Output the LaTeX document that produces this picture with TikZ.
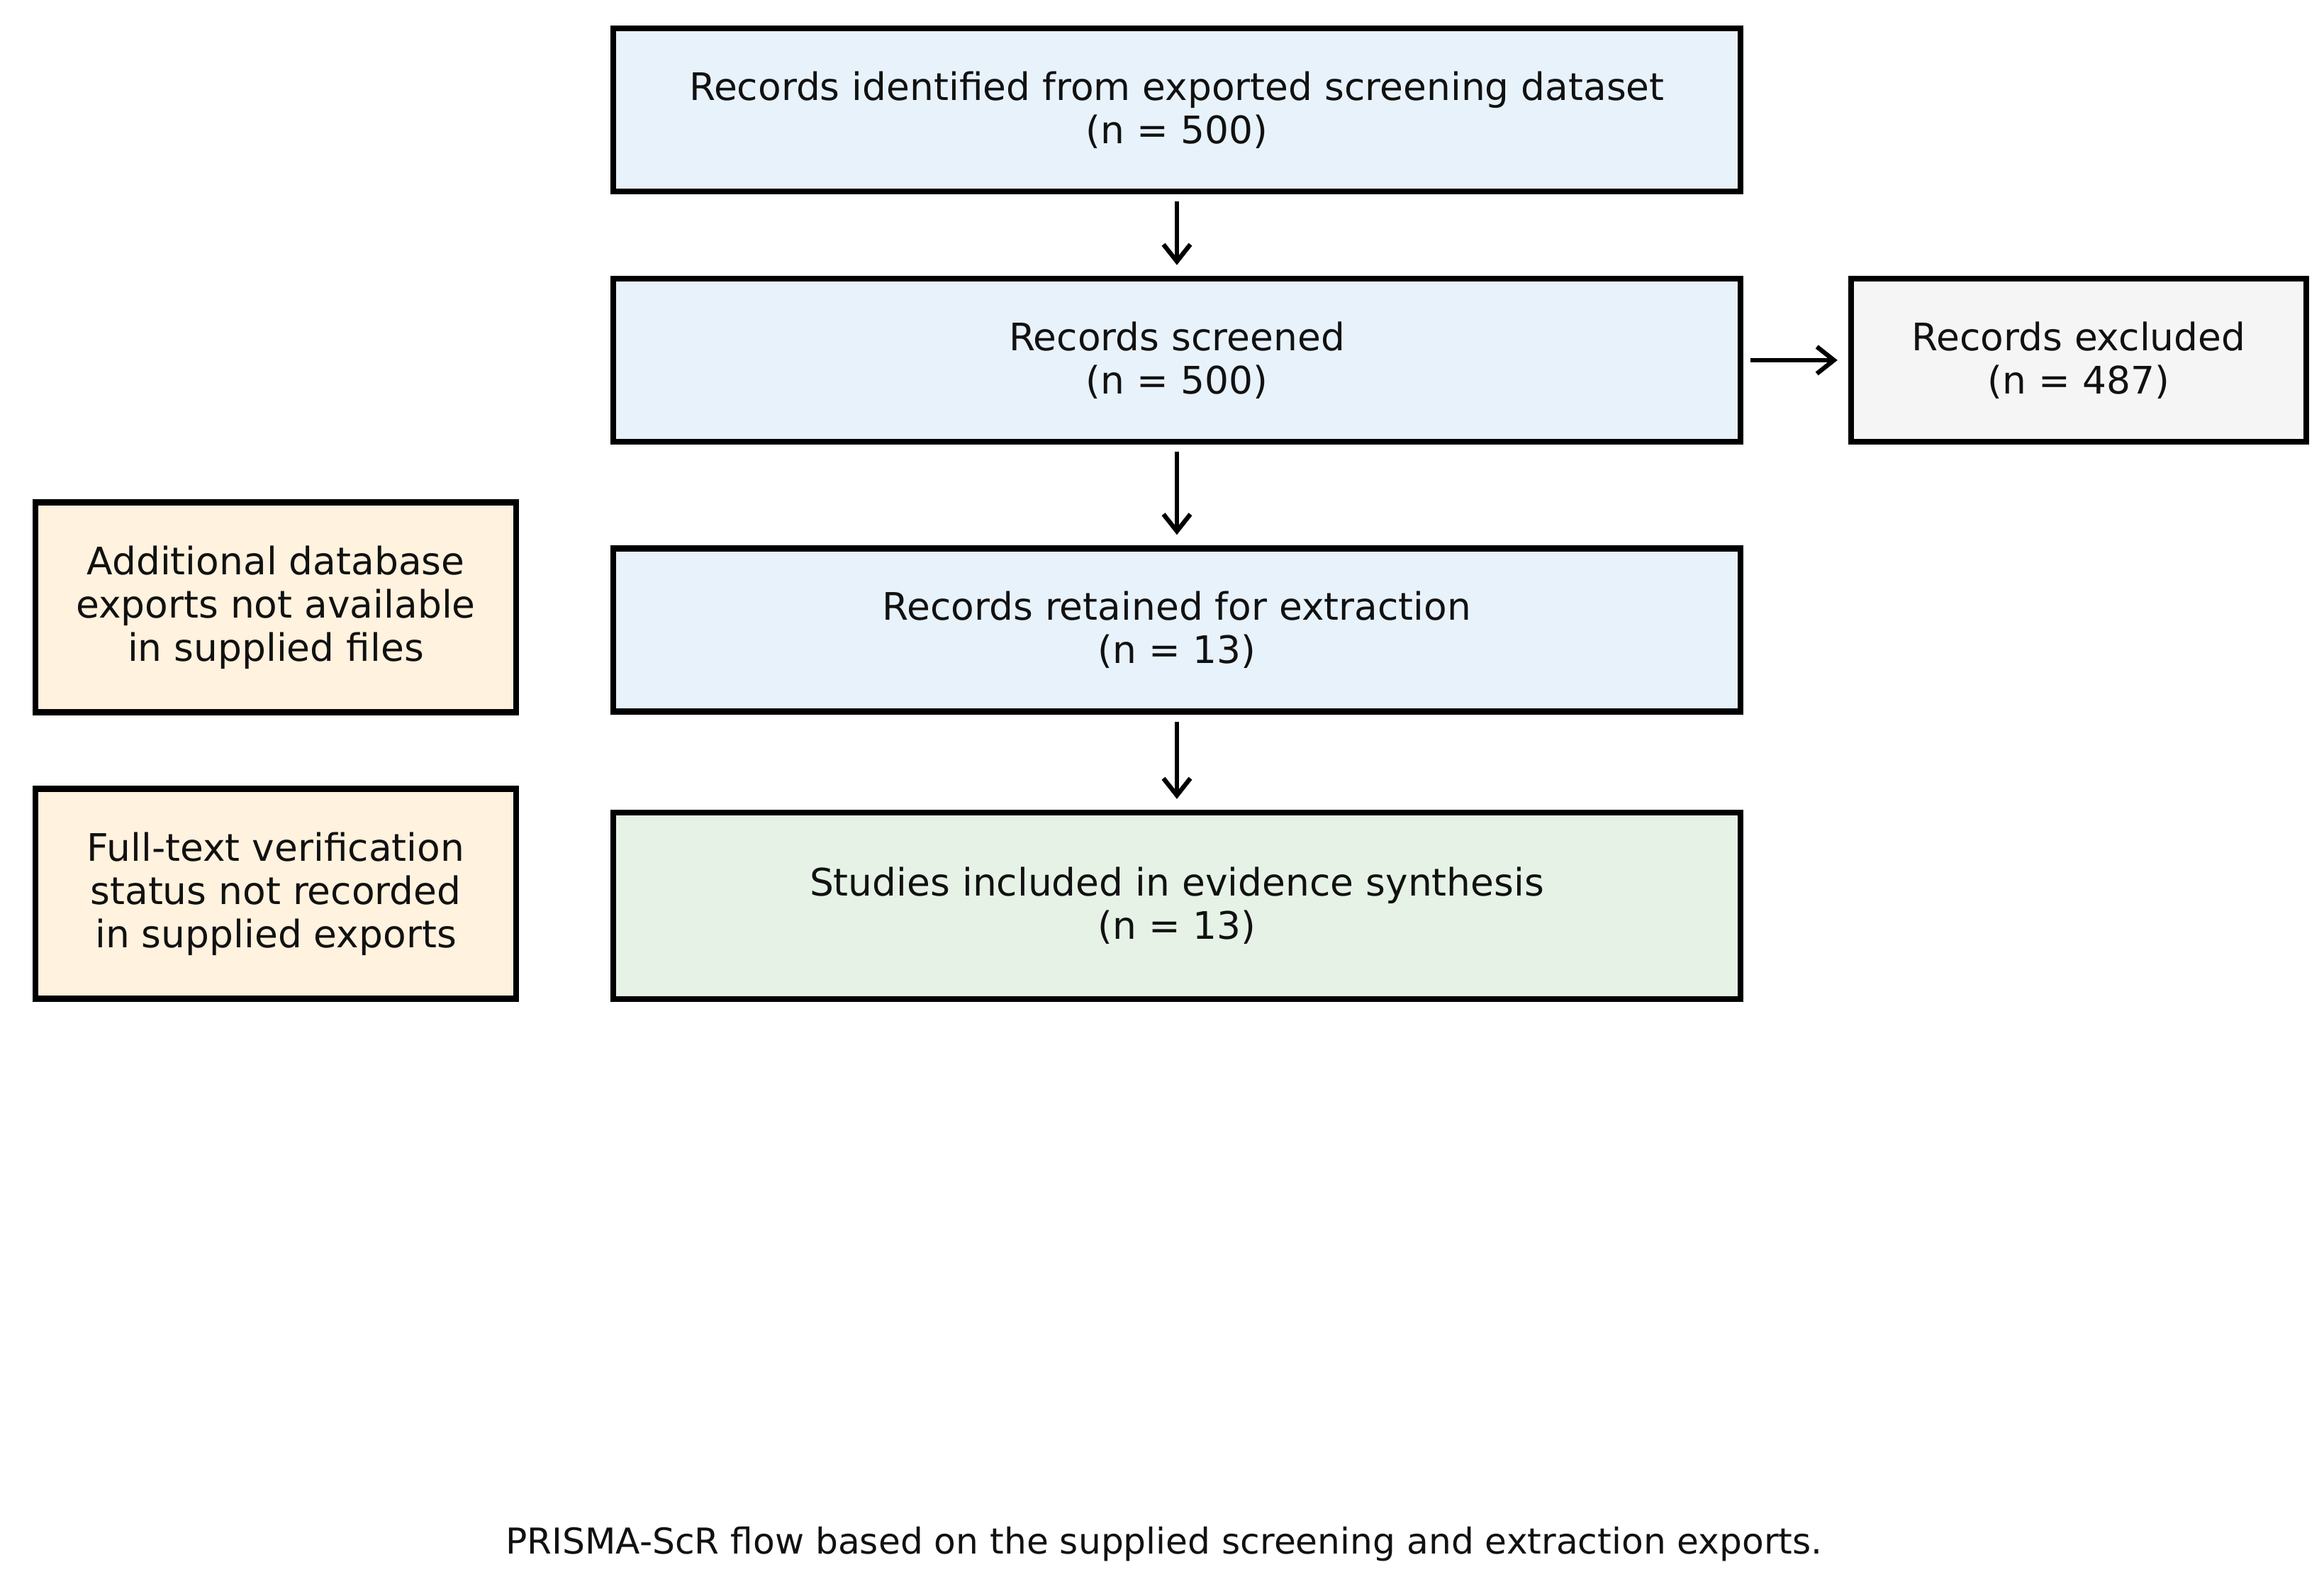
\documentclass[tikz,border=0pt]{standalone}
\usepackage{fontspec}
\setmainfont{DejaVu Sans}
\usetikzlibrary{arrows.meta}
\definecolor{stageblue}{RGB}{232,242,251}
\definecolor{stagegreen}{RGB}{230,242,230}
\definecolor{notecream}{RGB}{255,242,222}
\definecolor{exclgray}{RGB}{245,245,245}
\definecolor{inkblack}{RGB}{17,17,17}

\begin{document}
\begin{tikzpicture}[
  box/.style={draw=black, line width=2.4pt, inner sep=0pt, align=center,
    text=inkblack, font=\fontsize{15.2}{17.4}\selectfont},
  stage/.style={box, fill=stageblue, minimum width=15.9cm, minimum height=2.3cm},
  note/.style={box, fill=notecream, minimum width=6.78cm, minimum height=2.96cm},
  arrow/.style={-{Straight Barb[length=2.4mm,width=3.8mm]}, line width=1.8pt,
    shorten <=0.1cm, shorten >=0.15cm}
]
\useasboundingbox (0,0) rectangle (32.78,-22.41);
\fill[white] (0,0) rectangle (32.78,-22.41);

% main flow
\node[stage] (ident) at (16.60,-1.55) {Records identified from exported screening dataset\\(n = 500)};
\node[stage] (screen) at (16.60,-5.08) {Records screened\\(n = 500)};
\node[stage] (retain) at (16.60,-8.885) {Records retained for extraction\\(n = 13)};
\node[stage, fill=stagegreen, minimum height=2.63cm] (incl) at (16.60,-12.775)
  {Studies included in evidence synthesis\\(n = 13)};
\node[box, fill=exclgray, minimum width=6.42cm, minimum height=2.3cm] (excl) at (29.32,-5.08)
  {Records excluded\\(n = 487)};

% side notes
\node[note] (noteA) at (3.89,-8.565) {Additional database\\exports not available\\in supplied files};
\node[note] (noteB) at (3.89,-12.605) {Full-text verification\\status not recorded\\in supplied exports};

\draw[arrow] (ident) -- (screen);
\draw[arrow] (screen) -- (retain);
\draw[arrow] (retain) -- (incl);
\draw[arrow] (screen) -- (excl);

\node[text=inkblack, font=\fontsize{14.3}{17}\selectfont] (caption) at (16.42,-21.78)
  {PRISMA-ScR flow based on the supplied screening and extraction exports.};
\end{tikzpicture}
\end{document}
